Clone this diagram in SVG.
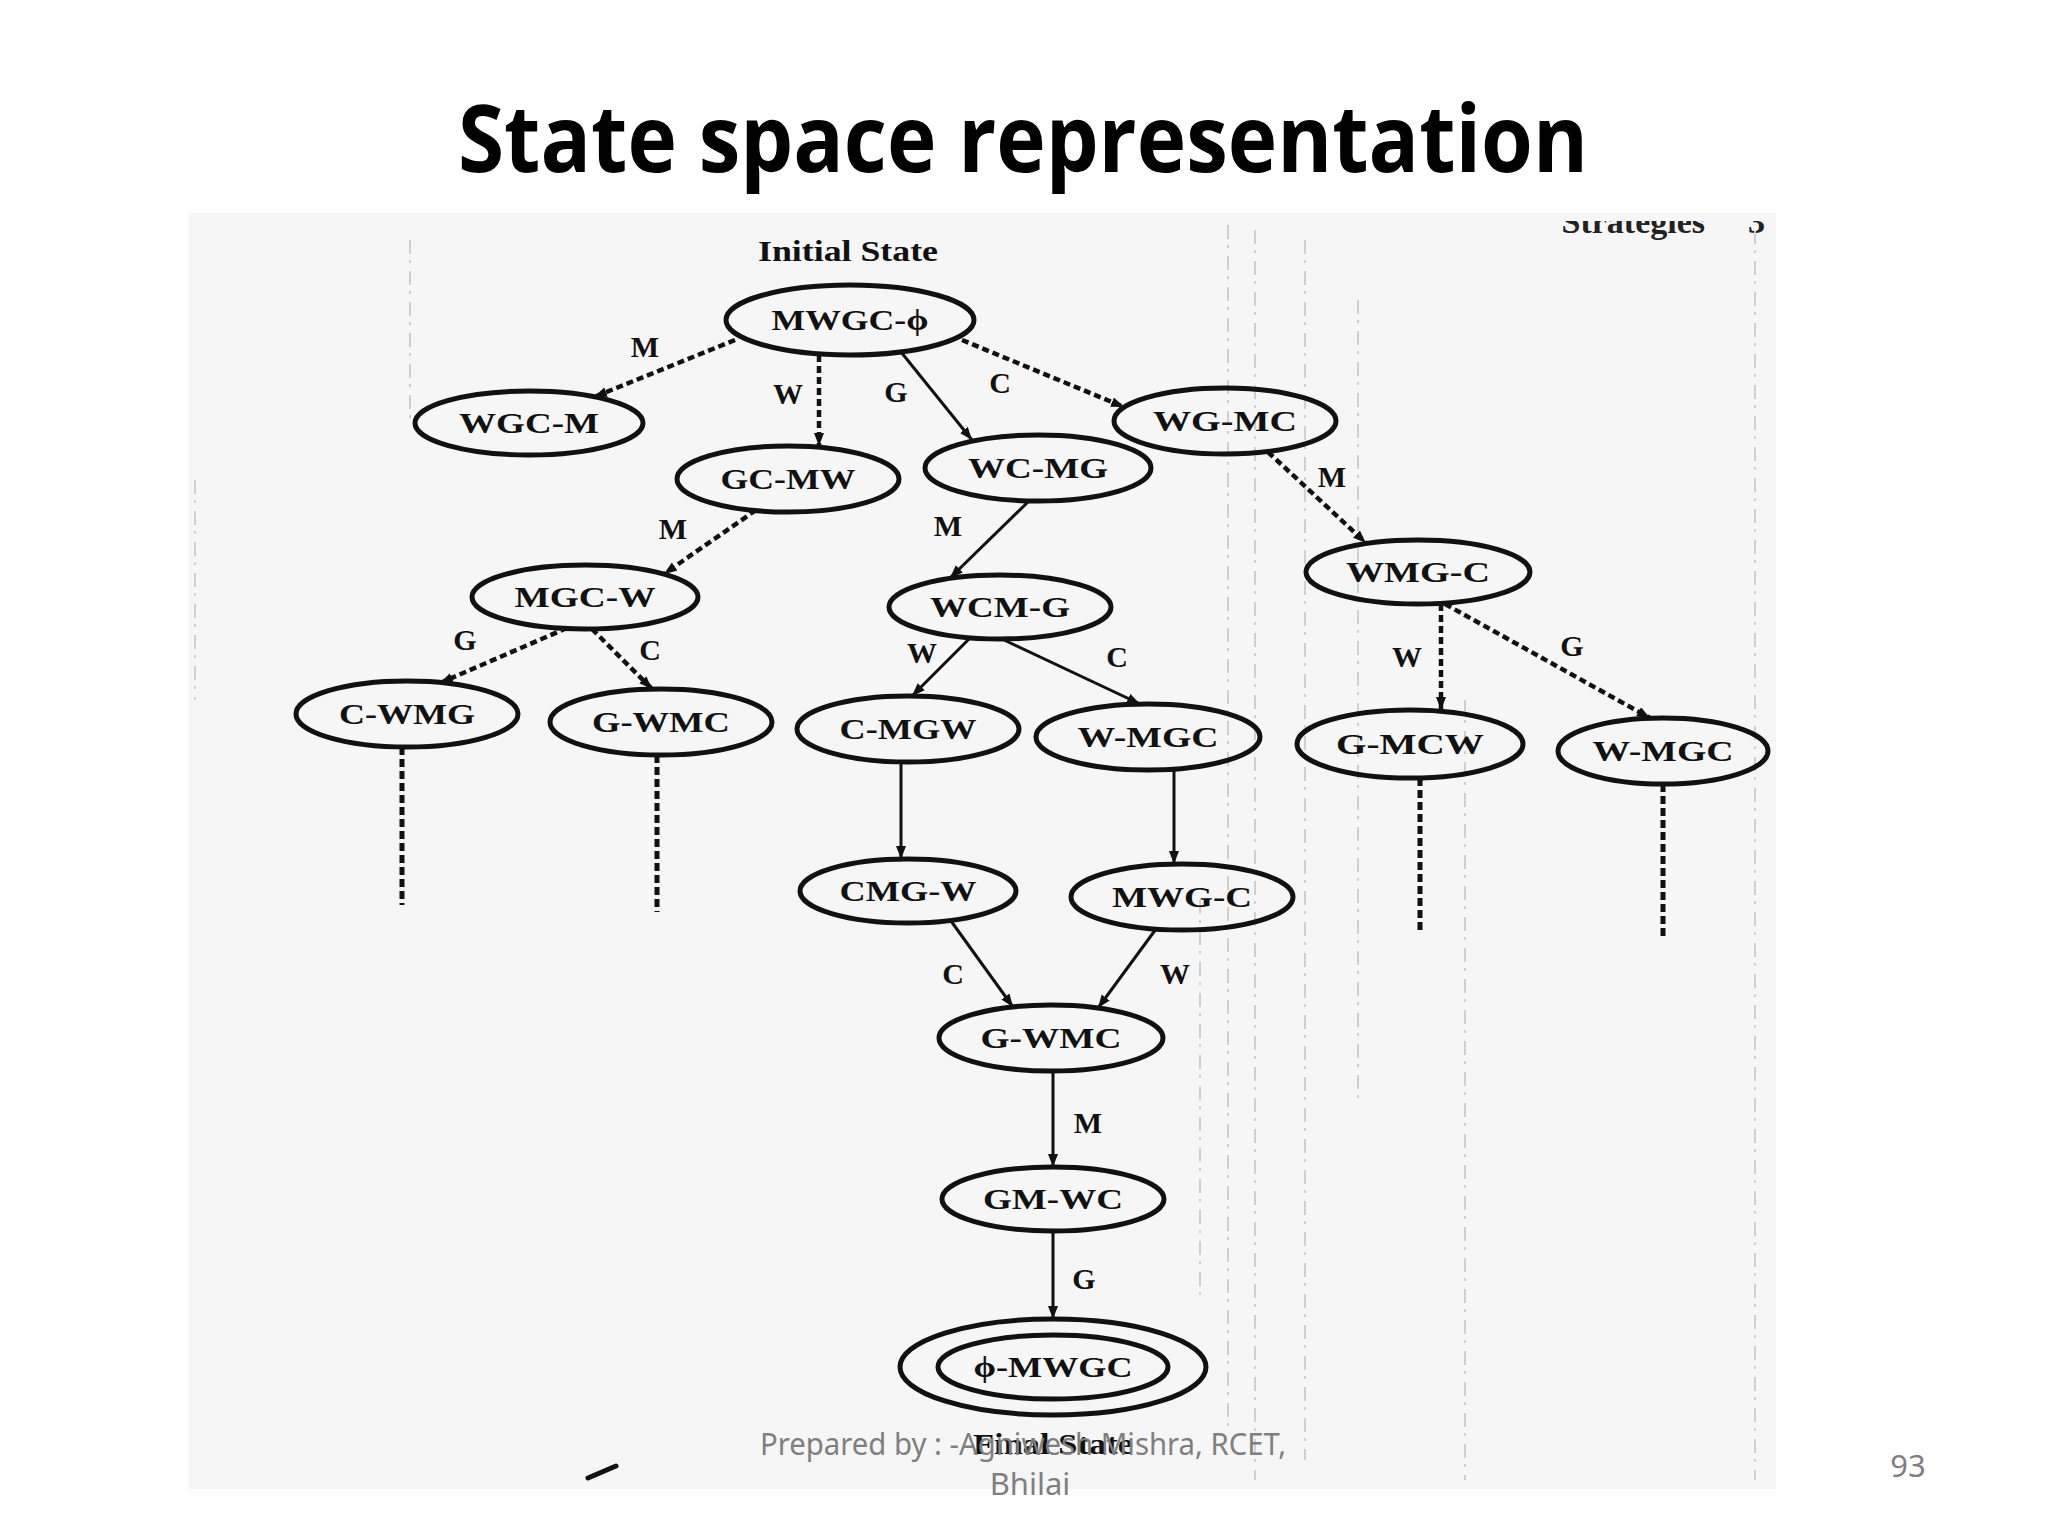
<svg xmlns="http://www.w3.org/2000/svg" width="2048" height="1536" viewBox="0 0 2048 1536">
<defs>
<style>
.title{font-family:"Open Sans","Noto Sans","Liberation Sans",sans-serif;font-weight:bold;font-size:94px;fill:#000}
.node ellipse{fill:none;stroke:#111;stroke-width:5}
.nt{font-family:"Liberation Serif","DejaVu Serif",serif;font-weight:bold;font-size:30px;fill:#111;text-anchor:middle}
.lbl{font-family:"Liberation Serif","DejaVu Serif",serif;font-weight:bold;font-size:30px;fill:#111;text-anchor:middle}
.solid{stroke:#111;stroke-width:3;fill:none}
.dash{stroke:#111;stroke-width:4.5;fill:none;stroke-dasharray:7 4}
.cont{stroke:#111;stroke-width:5;fill:none;stroke-dasharray:8 4}
.foot{font-family:"Noto Sans","Open Sans","Liberation Sans",sans-serif;font-size:31px;fill:#7f7f7f;text-anchor:middle}
.streak{stroke:#d0d0d0;stroke-width:2;stroke-dasharray:14 6 3 8;fill:none}
</style>
<marker id="ah" markerUnits="userSpaceOnUse" markerWidth="14" markerHeight="12" refX="13" refY="5" orient="auto">
<path d="M0,0 L13,5 L0,10 z" fill="#111"/>
</marker>
<clipPath id="scanclip"><rect x="189" y="221" width="1587" height="1268"/></clipPath>
</defs>
<rect width="2048" height="1536" fill="#fff"/>
<text class="title" x="1023" y="172" text-anchor="middle" textLength="1130" lengthAdjust="spacingAndGlyphs">State space representation</text>

<g id="scan">
<rect x="189" y="213" width="1587" height="1276" fill="#f6f6f6"/>
<g clip-path="url(#scanclip)">
<text x="1705" y="233" font-family="Liberation Serif,serif" font-weight="bold" font-size="34" fill="#222" text-anchor="end">Strategies</text>
<text x="1765" y="233" font-family="Liberation Serif,serif" font-weight="bold" font-size="34" fill="#222" text-anchor="end">3</text>
</g>
<path class="streak" d="M1228 225 V1430 M1255 230 V1480 M1305 240 V1460 M1358 300 V1100 M1465 700 V1480 M1755 230 V1480 M1200 900 V1300 M410 240 V420 M195 480 V700"/>
<path d="M588 1478 L616 1466" stroke="#111" stroke-width="5" stroke-linecap="round"/>
</g>

<text class="nt" x="848" y="261" font-size="28" textLength="180" lengthAdjust="spacingAndGlyphs">Initial State</text>

<g id="connectors">
<path class="dash" d="M735 340 L594 397" marker-end="url(#ah)"/>
<path class="dash" d="M819 355 L819 446" marker-end="url(#ah)"/>
<path class="solid" d="M901 352 L972 440" marker-end="url(#ah)"/>
<path class="dash" d="M962 340 L1124 407" marker-end="url(#ah)"/>
<path class="dash" d="M1268 452 L1366 543" marker-end="url(#ah)"/>
<path class="dash" d="M756 510 L664 574" marker-end="url(#ah)"/>
<path class="solid" d="M1030 500 L950 578" marker-end="url(#ah)"/>
<path class="dash" d="M567 628 L440 683" marker-end="url(#ah)"/>
<path class="dash" d="M592 629 L652 689" marker-end="url(#ah)"/>
<path class="solid" d="M970 638 L912 696" marker-end="url(#ah)"/>
<path class="solid" d="M1002 639 L1140 704" marker-end="url(#ah)"/>
<path class="dash" d="M1441 604 L1441 710" marker-end="url(#ah)"/>
<path class="dash" d="M1445 604 L1650 718" marker-end="url(#ah)"/>
<path class="cont" d="M402 747 L402 905"/>
<path class="cont" d="M657 755 L657 912"/>
<path class="cont" d="M1420 778 L1420 934"/>
<path class="cont" d="M1663 784 L1663 940"/>
<path class="solid" d="M901 762 L901 859" marker-end="url(#ah)"/>
<path class="solid" d="M1174 770 L1174 864" stroke-width="4" marker-end="url(#ah)"/>
<path class="solid" d="M951 921 L1013 1007" marker-end="url(#ah)"/>
<path class="solid" d="M1156 929 L1098 1008" marker-end="url(#ah)"/>
<path class="solid" d="M1053 1071 L1053 1167" stroke-width="4" marker-end="url(#ah)"/>
<path class="solid" d="M1053 1231 L1053 1319" stroke-width="4" marker-end="url(#ah)"/>
<text class="lbl" x="645" y="357">M</text>
<text class="lbl" x="788" y="404">W</text>
<text class="lbl" x="896" y="402">G</text>
<text class="lbl" x="1000" y="393">C</text>
<text class="lbl" x="1332" y="487">M</text>
<text class="lbl" x="673" y="539">M</text>
<text class="lbl" x="948" y="536">M</text>
<text class="lbl" x="465" y="650">G</text>
<text class="lbl" x="650" y="660">C</text>
<text class="lbl" x="922" y="663">W</text>
<text class="lbl" x="1117" y="667">C</text>
<text class="lbl" x="1407" y="667">W</text>
<text class="lbl" x="1572" y="656">G</text>
<text class="lbl" x="953" y="984">C</text>
<text class="lbl" x="1175" y="984">W</text>
<text class="lbl" x="1088" y="1133">M</text>
<text class="lbl" x="1084" y="1289">G</text>
</g>

<g id="n1" class="node"><ellipse cx="850" cy="320" rx="124" ry="35"/><text class="nt" x="850" y="330" textLength="157" lengthAdjust="spacingAndGlyphs">MWGC-ϕ</text></g>
<g id="n2" class="node"><ellipse cx="529" cy="423" rx="114" ry="32"/><text class="nt" x="529" y="433" textLength="140" lengthAdjust="spacingAndGlyphs">WGC-M</text></g>
<g id="n3" class="node"><ellipse cx="788" cy="479" rx="111" ry="33"/><text class="nt" x="788" y="489" textLength="135" lengthAdjust="spacingAndGlyphs">GC-MW</text></g>
<g id="n4" class="node"><ellipse cx="1038" cy="468" rx="113" ry="33"/><text class="nt" x="1038" y="478" textLength="140" lengthAdjust="spacingAndGlyphs">WC-MG</text></g>
<g id="n5" class="node"><ellipse cx="1225" cy="421" rx="111" ry="33"/><text class="nt" x="1225" y="431" textLength="144" lengthAdjust="spacingAndGlyphs">WG-MC</text></g>
<g id="n6" class="node"><ellipse cx="585" cy="597" rx="113" ry="32"/><text class="nt" x="585" y="607" textLength="141" lengthAdjust="spacingAndGlyphs">MGC-W</text></g>
<g id="n7" class="node"><ellipse cx="1000" cy="607" rx="111" ry="32"/><text class="nt" x="1000" y="617" textLength="140" lengthAdjust="spacingAndGlyphs">WCM-G</text></g>
<g id="n8" class="node"><ellipse cx="1418" cy="572" rx="112" ry="32"/><text class="nt" x="1418" y="582" textLength="144" lengthAdjust="spacingAndGlyphs">WMG-C</text></g>
<g id="n9" class="node"><ellipse cx="407" cy="714" rx="111" ry="33"/><text class="nt" x="407" y="724" textLength="136" lengthAdjust="spacingAndGlyphs">C-WMG</text></g>
<g id="n10" class="node"><ellipse cx="661" cy="722" rx="111" ry="33"/><text class="nt" x="661" y="732" textLength="138" lengthAdjust="spacingAndGlyphs">G-WMC</text></g>
<g id="n11" class="node"><ellipse cx="908" cy="729" rx="111" ry="33"/><text class="nt" x="908" y="739" textLength="137" lengthAdjust="spacingAndGlyphs">C-MGW</text></g>
<g id="n12" class="node"><ellipse cx="1148" cy="737" rx="112" ry="33"/><text class="nt" x="1148" y="747" textLength="141" lengthAdjust="spacingAndGlyphs">W-MGC</text></g>
<g id="n13" class="node"><ellipse cx="1410" cy="744" rx="113" ry="34"/><text class="nt" x="1410" y="754" textLength="148" lengthAdjust="spacingAndGlyphs">G-MCW</text></g>
<g id="n14" class="node"><ellipse cx="1663" cy="751" rx="105" ry="33"/><text class="nt" x="1663" y="761" textLength="141" lengthAdjust="spacingAndGlyphs">W-MGC</text></g>
<g id="n15" class="node"><ellipse cx="908" cy="891" rx="108" ry="32"/><text class="nt" x="908" y="901" textLength="137" lengthAdjust="spacingAndGlyphs">CMG-W</text></g>
<g id="n16" class="node"><ellipse cx="1182" cy="897" rx="111" ry="33"/><text class="nt" x="1182" y="907" textLength="140" lengthAdjust="spacingAndGlyphs">MWG-C</text></g>
<g id="n17" class="node"><ellipse cx="1051" cy="1038" rx="112" ry="33"/><text class="nt" x="1051" y="1048" textLength="141" lengthAdjust="spacingAndGlyphs">G-WMC</text></g>
<g id="n18" class="node"><ellipse cx="1053" cy="1199" rx="111" ry="32"/><text class="nt" x="1053" y="1209" textLength="140" lengthAdjust="spacingAndGlyphs">GM-WC</text></g>
<g id="n19" class="node"><ellipse cx="1053" cy="1367" rx="153" ry="48" stroke-width="6"/><ellipse cx="1053" cy="1367" rx="115" ry="32"/><text class="nt" x="1053" y="1377" textLength="159" lengthAdjust="spacingAndGlyphs">ϕ-MWGC</text></g>

<text class="nt" x="1053" y="1454" textLength="160" lengthAdjust="spacingAndGlyphs">Final State</text>

<g id="footer">
<text class="foot" x="1023" y="1455" textLength="526" lengthAdjust="spacingAndGlyphs">Prepared by : -Agniwesh Mishra, RCET,</text>
<text class="foot" x="1030" y="1495">Bhilai</text>
<text class="foot" x="1908" y="1477">93</text>
</g>
</svg>
